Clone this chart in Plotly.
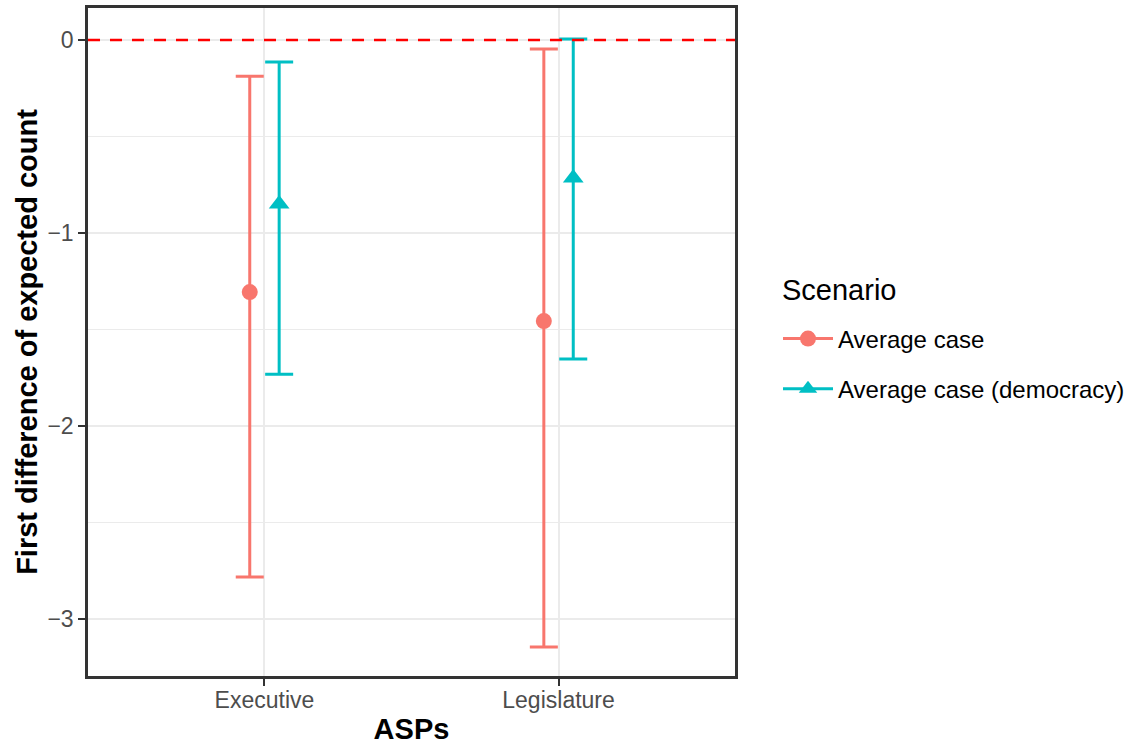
import plotly.graph_objects as go

# ---- data ----
categories = ["Executive", "Legislature"]
scenarios = ["Average case", "Average case (democracy)"]
est_avg = [-1.306, -1.456]
low_avg = [-2.782, -3.145]
high_avg = [-0.187, -0.047]
est_dem = [-0.850, -0.715]
low_dem = [-1.731, -1.653]
high_dem = [-0.114, 0.005]

y_ticks = [0, -1, -2, -3]
y_tick_labels = ["0", "\u22121", "\u22122", "\u22123"]

colors = ["#F8766D", "#00BFC4"]
symbols = ["circle", "triangle-up"]
sizes = [16, 18]
dodge = [-0.05, 0.05]

series = [
    (est_avg, low_avg, high_avg),
    (est_dem, low_dem, high_dem),
]

FONT = "Liberation Sans, Arial, Helvetica, sans-serif"

fig = go.Figure()
cat_pos = list(range(1, len(categories) + 1))

for i, (est, lo, hi) in enumerate(series):
    xs = [p + dodge[i] for p in cat_pos]
    fig.add_trace(go.Scatter(
        x=xs, y=est, mode="markers",
        marker=dict(symbol=symbols[i], size=sizes[i], color=colors[i], line=dict(width=0)),
        error_y=dict(type="data", symmetric=False,
                     array=[h - e for h, e in zip(hi, est)],
                     arrayminus=[e - l for e, l in zip(est, lo)],
                     color=colors[i], thickness=3, width=14),
        showlegend=False, hoverinfo="skip",
    ))

# legend entries (line through marker, as in a pointrange key)
for i, name in enumerate(scenarios):
    fig.add_trace(go.Scatter(
        x=[None], y=[None], mode="lines+markers", name=name,
        legendgroup=name,
        line=dict(color=colors[i], width=3),
        marker=dict(symbol=symbols[i], size=sizes[i], color=colors[i]),
    ))

fig.add_hline(y=0, line=dict(color="#FF0000", width=2.5, dash="12px,10px"), layer="above")

fig.add_annotation(
    text="Scenario", xref="paper", yref="paper",
    x=(780 - 88) / 647, y=(676 - 290) / 668, xanchor="left", yanchor="middle",
    showarrow=False, font=dict(size=29, color="#000000", family=FONT),
)

fig.update_layout(
    width=1132, height=745,
    margin=dict(l=88, r=397, t=8, b=69, autoexpand=False),
    paper_bgcolor="white", plot_bgcolor="white",
    font=dict(family=FONT, color="#000000"),
    legend=dict(
        font=dict(size=24, color="#000000", family=FONT),
        x=(778 - 88) / 647, xanchor="left", y=(676 - 364) / 668, yanchor="middle",
        tracegroupgap=16, bgcolor="rgba(0,0,0,0)", itemwidth=50,
    ),
)

fig.update_xaxes(
    range=[0.4, 2.6], tickvals=cat_pos, ticktext=categories,
    showgrid=True, gridcolor="#EBEBEB", gridwidth=2.2,
    showline=True, mirror=True, linecolor="#333333", linewidth=2.5,
    ticks="outside", ticklen=7, tickwidth=2, tickcolor="#333333",
    tickfont=dict(size=23, color="#4D4D4D", family=FONT),
    ticklabelstandoff=-5,
    title=dict(text="<b>ASPs</b>", font=dict(size=29, color="#000000", family=FONT), standoff=10),
    zeroline=False, automargin=False,
)
fig.update_yaxes(
    range=[-3.295, 0.166], tickvals=y_ticks, ticktext=y_tick_labels,
    showgrid=True, gridcolor="#EBEBEB", gridwidth=2.2,
    minor=dict(tickvals=[-0.5, -1.5, -2.5], showgrid=True, gridcolor="#EBEBEB", gridwidth=1.1, ticks=""),
    showline=True, mirror=True, linecolor="#333333", linewidth=2.5,
    ticks="outside", ticklen=7, tickwidth=2, tickcolor="#333333",
    tickfont=dict(size=23, color="#4D4D4D", family=FONT),
    title=dict(text="<b>First difference of expected count</b>", font=dict(size=29, color="#000000", family=FONT), standoff=2),
    zeroline=False, automargin=False,
)

fig.write_html("out.html")
